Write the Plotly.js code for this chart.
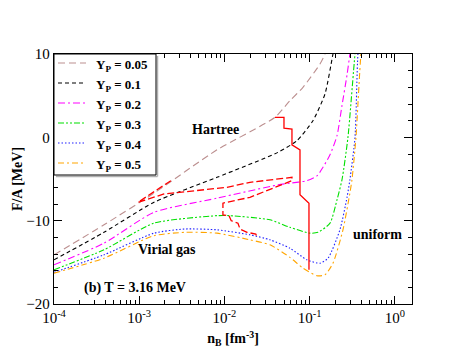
<!DOCTYPE html>
<html>
<head>
<meta charset="utf-8">
<script src="https://cdn.plot.ly/plotly-3.0.1.min.js"></script>
<style>html,body{margin:0;padding:0;background:#fff;}#chart{width:463px;height:358px;}</style>
</head>
<body>
<div id="chart"></div>
<script>
// Y_P = 0.05
const nB_005 = [1e-4, 3.86e-4, 1.49e-3, 8.17e-3, 0.0391, 0.0586, 0.0834, 0.132, 0.151, 0.173];
const F_005  = [-14.1, -10.5, -6.7, -1.5, 2.4, 4.4, 6.0, 8.8, 10.0, 13.0];
// Y_P = 0.1
const nB_01 = [1e-4, 3.86e-4, 1.49e-3, 8.17e-3, 0.0425, 0.0708, 0.109, 0.151, 0.1875, 0.215];
const F_01  = [-14.7, -11.4, -7.8, -4.8, -1.8, -0.4, 2.0, 5.2, 10.0, 12.9];
// Y_P = 0.2
const nB_02 = [1e-4, 3.86e-4, 1.49e-3, 8.17e-3, 0.0425, 0.0586, 0.0929, 0.1225, 0.143, 0.173, 0.209, 0.239, 0.274, 0.296, 0.321];
const F_02  = [-15.3, -12.7, -9.0, -7.3, -5.7, -5.5, -5.2, -4.6, -3.6, -2.1, 0.2, 3.8, 7.5, 10.0, 12.9];
// Y_P = 0.3
const nB_03 = [1e-4, 3.86e-4, 1.49e-3, 8.17e-3, 0.0116, 0.0342, 0.0586, 0.1007, 0.125, 0.173, 0.209, 0.239, 0.281, 0.340, 0.368];
const F_03  = [-15.9, -13.5, -10.3, -9.4, -9.4, -9.9, -10.8, -11.5, -11.4, -10.3, -7.5, -5.1, 0.0, 10.0, 12.9];
// Y_P = 0.4
const nB_04 = [1e-4, 3.86e-4, 1.49e-3, 3.44e-3, 8.17e-3, 0.0199, 0.0342, 0.0586, 0.0929, 0.132, 0.164, 0.226, 0.274, 0.296, 0.340, 0.368, 0.399];
const F_04  = [-16.2, -14.1, -11.5, -11.0, -11.1, -11.7, -12.3, -13.3, -14.7, -15.1, -14.5, -11.1, -7.2, -5.1, 0.0, 10.0, 12.9];
// Y_P = 0.5
const nB_05 = [1e-4, 3.86e-4, 1.49e-3, 3.44e-3, 8.17e-3, 0.0199, 0.0342, 0.0586, 0.0834, 0.1216, 0.151, 0.1875, 0.2455, 0.296, 0.313, 0.349, 0.399, 0.433];
const F_05  = [-16.3, -14.5, -11.8, -11.4, -11.5, -12.3, -12.9, -14.4, -15.7, -16.6, -16.5, -15.1, -11.1, -6.7, -5.1, 0.0, 10.0, 12.9];
// Hartree / uniform boundary (solid red)
const nB_red = [0.0391, 0.0499, 0.0499, 0.0619, 0.0619, 0.0769, 0.0769, 0.098, 0.098];
const F_red  = [2.4, 2.4, 1.1, 1.0, -0.9, -1.5, -6.9, -7.9, -15.9];
// virial / Hartree boundary (dashed red)
const nB_redd = [2.35e-3, 9.66e-4, 1.95e-3, 0.0107, 0.0199, 0.0619, 0.0619, 0.0199, 9.59e-3, 9.59e-3, 0.0113, 0.0120, 0.0144, 0.0152, 0.0184, 0.0233, 0.0245];
const F_redd  = [-5.2, -7.8, -6.8, -6.0, -5.4, -4.8, -5.2, -7.2, -7.9, -9.3, -9.4, -10.0, -10.3, -11.0, -11.4, -11.6, -12.1];

const names = ['Y<sub>P</sub> = 0.05','Y<sub>P</sub> = 0.1','Y<sub>P</sub> = 0.2','Y<sub>P</sub> = 0.3','Y<sub>P</sub> = 0.4','Y<sub>P</sub> = 0.5'];
const colors = ['#bc8f8f', '#000000', '#ff00ff', '#00e000', '#2020ff', '#ffa500'];
const dashes = ['7px,4px', '4px,3px', '7px,3px,2px,3px', '6px,2px,2px,2px,2px,2px', '1.5px,2px', '6px,3px,2px,3px'];
const xTickVals = [1e-4, 1e-3, 1e-2, 1e-1, 1];
const xTickText = ['10<sup>-4</sup>','10<sup>-3</sup>','10<sup>-2</sup>','10<sup>-1</sup>','10<sup>0</sup>'];

const minorX = [];
for (let e = -4; e <= 0; e++) for (let k = 2; k <= 9; k++) minorX.push(k * Math.pow(10, e));

const FONT = 'Liberation Serif, Times New Roman, serif';
const BOLD = {family: FONT, size: 14, weight: 'bold'};
const LEGF = {family: FONT, size: 13, weight: 'bold'};
const xs = [nB_005, nB_01, nB_02, nB_03, nB_04, nB_05];
const ys = [F_005, F_01, F_02, F_03, F_04, F_05];
const data = xs.map((x, i) => ({
  x: x, y: ys[i], name: names[i], mode: 'lines', type: 'scatter',
  line: {color: colors[i], width: 1.1, dash: dashes[i], shape: 'spline', smoothing: 0.6}, showlegend: false
}));
data.push({x: nB_red, y: F_red, mode: 'lines', type: 'scatter', line: {color: '#ff0000', width: 1.3}, showlegend: false});
data.push({x: nB_redd, y: F_redd, mode: 'lines', type: 'scatter', line: {color: '#ff0000', width: 1.3, dash: '7px,3px'}, showlegend: false});

// Manual legend (paper coordinates)
const PW = 358, PH = 250;
const px = v => (v - 54) / PW;
const py = v => 1 - (v - 54) / PH;
const shapes = [
  {type: 'line', xref: 'paper', yref: 'paper', x0: px(157.5), x1: px(157.5), y0: py(56), y1: py(176.5), line: {color: '#b0b0b0', width: 1.5}},
  {type: 'line', xref: 'paper', yref: 'paper', x0: px(56), x1: px(157.5), y0: py(176.5), y1: py(176.5), line: {color: '#b0b0b0', width: 1.5}},
  {type: 'rect', xref: 'paper', yref: 'paper', x0: 0, x1: px(156), y0: py(175), y1: 1, line: {color: '#000', width: 1}, fillcolor: '#fff', layer: 'above'}
];
const annotations = [
  {x: -2.10, y: 0.9, xref: 'x', yref: 'y', text: 'Hartree', showarrow: false, font: BOLD},
  {x: -2.67, y: -13.5, xref: 'x', yref: 'y', text: 'Virial gas', showarrow: false, font: BOLD},
  {x: -0.20, y: -11.7, xref: 'x', yref: 'y', text: 'uniform', showarrow: false, font: BOLD},
  {x: -3.05, y: -18.1, xref: 'x', yref: 'y', text: '(b) T = 3.16 MeV', showarrow: false, font: BOLD}
];
names.forEach((nm, i) => {
  const yc = 63 + 20 * i;
  shapes.push({type: 'line', xref: 'paper', yref: 'paper', x0: px(58), x1: px(86), y0: py(yc), y1: py(yc),
               line: {color: colors[i], width: 1.1, dash: dashes[i]}, layer: 'above'});
  annotations.push({x: px(94), y: py(yc + 2), xref: 'paper', yref: 'paper', xanchor: 'left', yanchor: 'middle',
                    text: nm, showarrow: false, font: LEGF});
});

const layout = {
  width: 463, height: 358,
  margin: {l: 54, r: 51, t: 54, b: 54},
  paper_bgcolor: '#fff', plot_bgcolor: '#fff',
  font: {family: FONT, size: 15, color: '#000'},
  showlegend: false,
  xaxis: {type: 'log', range: [-4, 0.2], showgrid: false, zeroline: false,
          showline: true, linecolor: '#000', linewidth: 1.3, mirror: 'allticks',
          ticks: 'inside', ticklen: 8, tickcolor: '#000',
          tickvals: xTickVals, ticktext: xTickText, tickfont: {family: FONT, size: 15},
          minor: {ticks: 'inside', ticklen: 4, tickcolor: '#000', tickmode: 'array', tickvals: minorX, showgrid: false},
          title: {text: 'n<sub>B</sub> [fm<sup>-3</sup>]', font: BOLD, standoff: 8}},
  yaxis: {range: [-20, 10], showgrid: false, zeroline: false,
          showline: true, linecolor: '#000', linewidth: 1.3, mirror: 'allticks',
          ticks: 'inside', ticklen: 8, tickcolor: '#000',
          tickvals: [-20, -10, 0, 10], tickfont: {family: FONT, size: 15},
          minor: {ticks: 'inside', ticklen: 4, tickcolor: '#000', dtick: 2, showgrid: false},
          title: {text: 'F/A [MeV]', font: BOLD, standoff: 0}},
  shapes: shapes,
  annotations: annotations
};
Plotly.newPlot('chart', data, layout, {displayModeBar: false, staticPlot: true});
</script>
</body>
</html>
